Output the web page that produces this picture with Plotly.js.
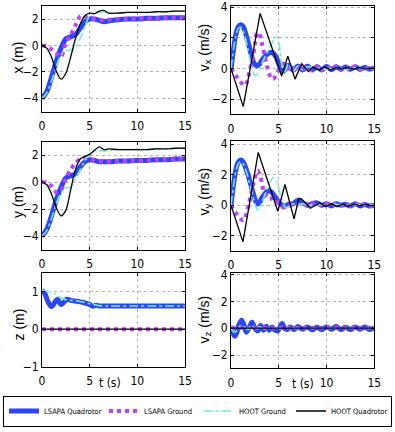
<!DOCTYPE html>
<html><head><meta charset="utf-8">
<script src="https://cdn.plot.ly/plotly-3.0.1.min.js"></script>
<style>html,body{margin:0;padding:0;background:#fff;}#chart{width:395px;height:432px;}</style>
</head><body><div id="chart"></div>
<script>
// ---------- series names ----------
const SERIES_NAMES = ['LSAPA Quadrotor', 'LSAPA Ground', 'HOOT Ground', 'HOOT Quadrotor'];
const X_TICKS = [0, 5, 10, 15];

// ---------- positions (x, y) ----------
const T_POS = [0,0.5,1,1.5,2,2.5,3,3.5,4,4.5,5,5.5,6,6.5,7,8,9,10,11,12,13,14,15];
const X_LSAPA_QUAD   = [-4,-3.5,-2.4,-1.2,-0.2,0.5,0.65,0.8,1.3,1.8,2.0,2.0,1.9,1.8,1.85,1.95,2.0,2.0,2.05,2.05,2.1,2.1,2.1];
const X_LSAPA_GROUND = [0,-0.05,-0.3,-0.6,-0.85,0.2,0.8,1.5,2.2,2.2,2.0,2.0,1.95,1.9,1.95,2.0,2.0,2.05,2.05,2.05,2.1,2.1,2.1];
const X_HOOT_GROUND  = [-4,-3.6,-2.7,-1.6,-0.7,-0.4,-0.35,-0.15,0.5,1.4,2.25,2.45,2.5,2.55,2.45,2.45,2.5,2.5,2.5,2.55,2.55,2.6,2.6];
const X_HOOT_QUAD    = [0,-0.2,-0.9,-1.95,-2.55,-2.1,-0.9,0.5,1.6,2.25,2.45,2.4,2.6,2.65,2.45,2.45,2.5,2.5,2.5,2.55,2.55,2.6,2.6];

const Y_LSAPA_QUAD   = [-4,-3.5,-2.5,-1.3,-0.4,0.3,0.45,0.6,1.1,1.5,1.65,1.6,1.5,1.5,1.5,1.55,1.55,1.6,1.6,1.65,1.65,1.7,1.7];
const Y_LSAPA_GROUND = [0,-0.05,-0.3,-0.75,-0.6,0.3,0.9,1.4,1.7,1.75,1.7,1.6,1.55,1.5,1.5,1.55,1.55,1.6,1.6,1.65,1.65,1.7,1.7];
const Y_HOOT_GROUND  = [-4,-3.6,-2.7,-1.6,-0.8,-0.45,-0.4,0.2,0.9,1.6,2.1,2.3,2.35,2.3,2.35,2.4,2.4,2.4,2.4,2.45,2.45,2.5,2.5];
const Y_HOOT_QUAD    = [0,-0.2,-0.9,-1.9,-2.5,-2.1,-0.6,0.9,1.7,1.9,2.05,2.35,2.6,2.4,2.45,2.4,2.4,2.4,2.4,2.45,2.45,2.5,2.5];

// ---------- altitude z ----------
const T_Z_LQ = [0,0.3,0.6,1,1.3,1.6,2,2.3,2.6,3,3.5,4,4.5,5,5.3,5.7,6,7,8,9,10,11,12,13,14,15];
const Z_LSAPA_QUAD = [1.05,0.95,0.75,0.6,0.7,0.8,0.66,0.72,0.8,0.77,0.75,0.73,0.7,0.66,0.61,0.64,0.62,0.62,0.62,0.62,0.62,0.62,0.62,0.62,0.62,0.62];
const T_Z_HG = [0,0.5,1,1.5,2,2.5,3,3.5,4,5,6,7,8,10,12,15];
const Z_HOOT_GROUND = [1.05,1.02,0.98,0.93,0.84,0.79,0.77,0.76,0.74,0.68,0.63,0.62,0.62,0.62,0.62,0.62];
const T_Z_FLAT = [0,15];
const Z_LSAPA_GROUND = [0,0];
const Z_HOOT_QUAD = [0,0];

// ---------- velocity vx ----------
const T_VX_LQ = [0,0.25,0.5,0.75,1,1.25,1.5,1.75,2,2.25,2.5,2.75,3,3.25,3.5,3.75,4,4.25,4.5,4.75,5,5.25,5.5,5.75,6,6.5,7,7.5,8,8.5,9,9.5,10,10.5,11,11.5,12,12.5,13,13.5,14,14.5,15];
const VX_LSAPA_QUAD = [0,1.2,2.2,2.7,2.85,2.75,2.35,1.8,1.2,0.6,0.25,0.17,0.3,0.55,0.75,0.9,1.0,1.05,0.95,0.7,0.3,-0.1,-0.2,0.0,0.2,-0.1,0.15,-0.1,0.15,-0.08,0.1,-0.1,0.12,-0.08,0.1,-0.05,0.1,-0.06,0.1,-0.05,0.06,-0.05,0.05];
const T_VX_LG = [0,0.5,1,1.5,2,2.25,2.5,2.75,3,3.25,3.5,3.75,4,4.25,4.5,4.75,5,5.5,6,6.5,7,7.5,8,8.5,9,9.5,10,10.5,11,11.5,12,12.5,13,13.5,14,14.5,15];
const VX_LSAPA_GROUND = [0,-0.45,-0.9,-1.1,0.0,0.6,1.6,2.35,2.2,1.6,0.9,0.2,-0.35,-0.7,-0.65,-0.4,-0.1,0.3,0.05,-0.2,0.2,-0.15,0.15,-0.15,0.15,-0.1,0.15,-0.1,0.15,-0.1,0.1,-0.1,0.15,-0.1,0.1,-0.1,0.1];
const T_VX_HG = [0,0.25,0.5,0.75,1,1.25,1.5,1.75,2,2.25,2.5,2.75,3,3.25,3.5,3.75,4,4.25,4.5,4.75,5,5.25,5.5,5.75,6,6.5,7,7.5,8,9,10,11,12,13,14,15];
const VX_HOOT_GROUND = [0,1.2,2.1,2.6,2.7,2.5,2.0,1.3,0.5,-0.2,-0.45,-0.4,-0.1,0.3,0.7,1.0,1.3,1.6,1.9,2.05,1.7,0.6,-0.4,-0.1,0.3,-0.2,0.15,-0.1,0.1,0.05,-0.05,0.05,-0.05,0.05,-0.05,0];
const T_VX_HQ = [0,1.28,3.05,5.3,5.95,6.7,7.4,8.1,8.6,9.2,9.8,10.4,11,11.6,12.2,12.8,13.4,14,14.6,15];
const VX_HOOT_QUAD = [0,-2.5,3.6,-0.5,0.8,-0.7,0.3,-0.2,0.1,-0.1,0.1,-0.1,0.05,-0.05,0.05,-0.05,0.05,-0.05,0,0];

// ---------- velocity vy ----------
const T_VY_LQ = [0,0.25,0.5,0.75,1,1.25,1.5,1.75,2,2.25,2.5,2.75,3,3.25,3.5,3.75,4,4.25,4.5,4.75,5,5.25,5.5,5.75,6,6.5,7,7.5,8,8.5,9,9.5,10,10.5,11,11.5,12,12.5,13,13.5,14,14.5,15];
const VY_LSAPA_QUAD = [0,1.3,2.3,2.8,2.95,2.85,2.5,2.05,1.5,0.95,0.4,0.07,0.2,0.5,0.7,0.9,0.95,0.85,0.65,0.4,0.2,0.05,-0.05,-0.05,0.05,0.1,0.3,0.15,0.0,0.1,0.15,0.0,0.1,-0.05,0.1,0.0,0.05,-0.05,0.1,-0.05,0.05,-0.05,0.0];
const T_VY_LG = [0,0.5,1,1.3,1.8,2.3,2.8,3.1,3.5,4,4.5,5,5.5,6,6.5,7,7.5,8,8.5,9,9.5,10,10.5,11,11.5,12,12.5,13,13.5,14,14.5,15];
const VY_LSAPA_GROUND = [0,-0.5,-0.9,-1.0,-0.1,1.3,2.25,1.8,0.8,0.4,0.5,0.1,-0.15,-0.1,0.1,0.05,0.15,-0.05,0.1,0.15,-0.05,0.1,-0.05,0.1,0.0,0.1,-0.05,0.1,-0.05,0.05,-0.05,0.0];
const T_VY_HG = [0,0.25,0.5,0.75,1,1.25,1.5,1.75,2,2.25,2.5,2.75,3,3.25,3.5,3.75,4,4.25,4.5,4.75,5,5.25,5.5,5.75,6,6.5,7,7.5,8,9,10,11,12,13,14,15];
const VY_HOOT_GROUND = [0,1.2,2.2,2.7,2.85,2.75,2.4,1.9,1.3,0.7,0.1,-0.3,-0.2,0.2,0.6,1.0,1.4,1.7,1.8,1.6,1.1,0.5,0.05,-0.15,-0.1,0.1,0.0,0.1,0.0,0.05,0.0,0.05,0.0,0.05,0.0,0.0];
const T_VY_HQ = [0,1.25,2.85,4.9,5.65,6.6,7.1,7.4,8.3,9.3,9.9,10.5,11.1,11.7,12.3,12.9,13.5,14.1,14.7,15];
const VY_HOOT_QUAD = [0,-2.4,3.45,-0.4,1.35,-0.9,0.45,0.4,-0.2,0.15,-0.1,0.1,-0.1,0.08,-0.08,0.08,-0.05,0.05,-0.05,0];

// ---------- velocity vz ----------
const T_VZ_LQ = [0,0.2,0.4,0.6,0.8,1.1,1.35,1.6,1.9,2.2,2.5,2.8,3.1,3.4,3.7,4,4.3,4.6,4.9,5.1,5.35,5.6,5.9,6.2,6.6,7,7.5,8,8.5,9,9.5,10,10.5,11,11.5,12,12.5,13,13.5,14,14.5,15];
const VZ_LSAPA_QUAD = [0,-0.4,-0.6,-0.35,0.2,0.6,0.25,-0.3,0.05,0.45,0.0,-0.2,0.2,-0.15,0.15,-0.15,0.1,-0.15,-0.2,0.05,0.35,0.0,-0.1,0.1,-0.1,0.12,-0.08,0.1,-0.12,0.08,-0.1,0.1,-0.08,0.12,-0.1,0.08,-0.1,0.1,-0.08,0.1,-0.1,0.05];
const T_VZ_HG = [0,0.3,0.6,1,1.4,1.8,2.2,2.6,3,3.5,4,5,6,7,8,9,10,11,12,13,14,15];
const VZ_HOOT_GROUND = [0,-0.3,-0.2,0.2,0.1,-0.1,0.2,-0.1,0.1,-0.05,0.05,0,0.05,0,0,0,0,0,0,0,0,0];
const T_VZ_FLAT = [0,15];
const VZ_LSAPA_GROUND = [0.03,0.03];
const VZ_HOOT_QUAD = [0,0];

// ---------- styles ----------
const STYLES = [
  {color: '#2a46f6', width: 5,   dash: 'solid',   legendwidth: 55},
  {color: '#bf40ff', width: 4,   dash: 'dot',     legendwidth: 50},
  {color: '#72f0d6', width: 1.6, dash: 'dashdot', legendwidth: 47},
  {color: '#000000', width: 1.3, dash: 'solid',   legendwidth: 55}
];

const PANELS = [
  {xa: 'x',  ya: 'y',  data: [[T_POS, X_LSAPA_QUAD], [T_POS, X_LSAPA_GROUND], [T_POS, X_HOOT_GROUND], [T_POS, X_HOOT_QUAD]], blackSpline: true},
  {xa: 'x2', ya: 'y2', data: [[T_VX_LQ, VX_LSAPA_QUAD], [T_VX_LG, VX_LSAPA_GROUND], [T_VX_HG, VX_HOOT_GROUND], [T_VX_HQ, VX_HOOT_QUAD]], blackSpline: false},
  {xa: 'x3', ya: 'y3', data: [[T_POS, Y_LSAPA_QUAD], [T_POS, Y_LSAPA_GROUND], [T_POS, Y_HOOT_GROUND], [T_POS, Y_HOOT_QUAD]], blackSpline: true},
  {xa: 'x4', ya: 'y4', data: [[T_VY_LQ, VY_LSAPA_QUAD], [T_VY_LG, VY_LSAPA_GROUND], [T_VY_HG, VY_HOOT_GROUND], [T_VY_HQ, VY_HOOT_QUAD]], blackSpline: false},
  {xa: 'x5', ya: 'y5', data: [[T_Z_LQ, Z_LSAPA_QUAD], [T_Z_FLAT, Z_LSAPA_GROUND], [T_Z_HG, Z_HOOT_GROUND], [T_Z_FLAT, Z_HOOT_QUAD]], blackSpline: false},
  {xa: 'x6', ya: 'y6', data: [[T_VZ_LQ, VZ_LSAPA_QUAD], [T_VZ_FLAT, VZ_LSAPA_GROUND], [T_VZ_HG, VZ_HOOT_GROUND], [T_VZ_FLAT, VZ_HOOT_QUAD]], blackSpline: false}
];

const traces = [];
PANELS.forEach((p, pi) => {
  p.data.forEach((d, si) => {
    const st = STYLES[si];
    const spline = si < 3 || p.blackSpline;
    const tr = {
      type: 'scatter', mode: 'lines', x: d[0], y: d[1],
      xaxis: p.xa, yaxis: p.ya,
      name: SERIES_NAMES[si],
      showlegend: pi === 0,
      line: {color: st.color, width: st.width, dash: st.dash, shape: spline ? 'spline' : 'linear', smoothing: 0.9},
      hoverinfo: 'skip'
    };
    if (pi === 0) tr.legendwidth = st.legendwidth;
    traces.push(tr);
  });
});

const W = 395, H = 432;
const px = v => v / W;
const py = v => 1 - v / H;
const NARROW = '"Liberation Sans Narrow", "DejaVu Sans Condensed", "Arial Narrow", sans-serif';
const TICKFONT = {family: NARROW, size: 12, color: '#000'};

function xAxis(x0, x1, anchor) {
  return {domain: [px(x0), px(x1)], range: [0, 15], tickvals: X_TICKS, anchor: anchor,
    showgrid: true, gridcolor: '#b4b4b4', griddash: 'dot', gridwidth: 1, zeroline: false,
    showline: true, linecolor: '#000', linewidth: 1, mirror: 'ticks', ticks: 'inside', ticklen: 3,
    tickcolor: '#000', tickfont: TICKFONT, ticklabelstandoff: 3, fixedrange: true};
}
function yAxis(top, bottom, range, tickvals, anchor) {
  return {domain: [py(bottom), py(top)], range: range, tickvals: tickvals, anchor: anchor,
    showgrid: true, gridcolor: '#b4b4b4', griddash: 'dot', gridwidth: 1, zeroline: false,
    showline: true, linecolor: '#000', linewidth: 1, mirror: 'ticks', ticks: 'inside', ticklen: 3,
    tickcolor: '#000', tickfont: TICKFONT, fixedrange: true};
}

const LX0 = 42, LX1 = 185, RX0 = 231, RX1 = 374.3;
const TITLEFONT = {family: '"Liberation Sans", Arial, sans-serif', size: 14, color: '#000'};
const TITLE_SHIFT = -11;
function ytitle(text, x, y) {
  return {text: text, x: px(x), y: py(y), xref: 'paper', yref: 'paper', showarrow: false,
    textangle: -90, font: TITLEFONT, xanchor: 'center', yanchor: 'middle', xshift: TITLE_SHIFT};
}
function ttitle(x, y) {
  return {text: 't (s)', x: px(x), y: py(y), xref: 'paper', yref: 'paper', showarrow: false,
    font: {family: NARROW, size: 12, color: '#000'}, xanchor: 'center', yanchor: 'middle'};
}

const layout = {
  width: W, height: H, margin: {l: 0, r: 0, t: 0, b: 0},
  paper_bgcolor: '#fff', plot_bgcolor: '#fff', showlegend: true,
  xaxis:  xAxis(LX0, LX1, 'y'),
  yaxis:  yAxis(5.8, 111.5, [-5, 3], [-4, -2, 0, 2], 'x'),
  xaxis2: xAxis(RX0, RX1, 'y2'),
  yaxis2: yAxis(6, 114.3, [-3, 4.08], [-2, 0, 2, 4], 'x2'),
  xaxis3: xAxis(LX0, LX1, 'y3'),
  yaxis3: yAxis(141.5, 249.5, [-5, 3], [-4, -2, 0, 2], 'x3'),
  xaxis4: xAxis(RX0, RX1, 'y4'),
  yaxis4: yAxis(141, 251, [-3, 4.2], [-2, 0, 2, 4], 'x4'),
  xaxis5: xAxis(LX0, LX1, 'y5'),
  yaxis5: yAxis(273, 366.7, [-1, 1.5], [-1, 0, 1], 'x5'),
  xaxis6: xAxis(RX0, RX1, 'y6'),
  yaxis6: yAxis(273.3, 368.4, [-3, 4.1], [-2, 0, 2, 4], 'x6'),
  legend: {orientation: 'h', x: 0.5, xanchor: 'center', y: py(411), yanchor: 'middle',
    bordercolor: '#000', borderwidth: 1, bgcolor: '#fff', traceorder: 'normal',
    font: {family: NARROW, size: 7.5, color: '#000'}, itemwidth: 30},
  annotations: [
    ytitle('x (m)', 28.5, 58),
    ytitle('v<sub>x</sub> (m/s)', 215.5, 48),
    ytitle('y (m)', 29, 202),
    ytitle('v<sub>y</sub> (m/s)', 215.5, 192),
    ytitle('z (m)', 29.5, 325),
    ytitle('v<sub>z</sub> (m/s)', 215.5, 320),
    ttitle(110, 383),
    ttitle(303, 384)
  ]
};

Plotly.newPlot('chart', traces, layout, {displayModeBar: false, staticPlot: true});
</script>
</body></html>
